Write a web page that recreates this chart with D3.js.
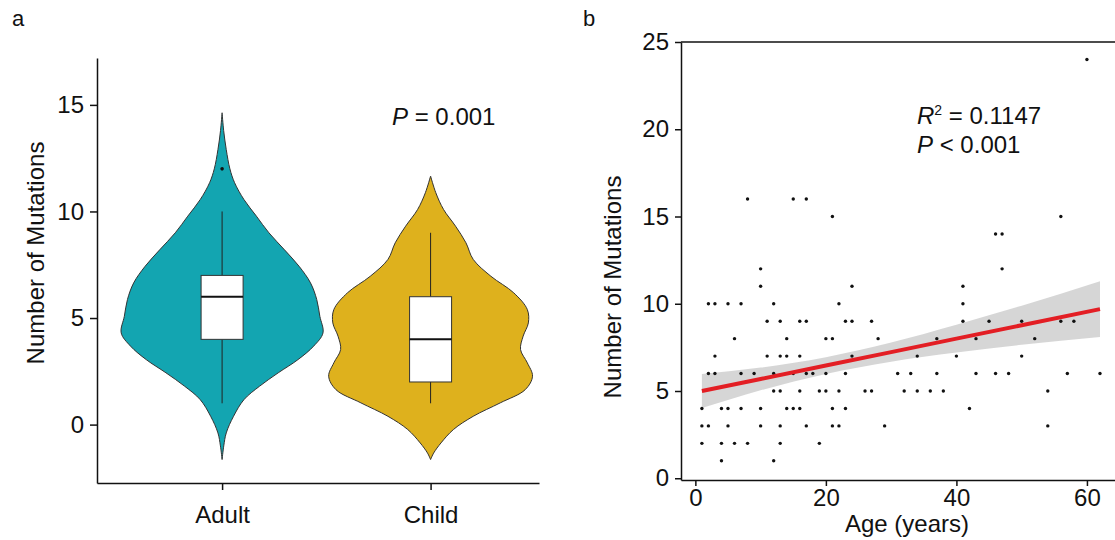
<!DOCTYPE html>
<html>
<head>
<meta charset="utf-8">
<script src="https://d3js.org/d3.v7.min.js"></script>
<style>
  body { margin: 0; background: #fff; }
  svg text { font-family: "Liberation Sans", Arial, sans-serif; fill: #111; }
  .axis path, .axis line { stroke: #111; stroke-width: 1.5px; }
  .axis text { font-size: 24px; }
</style>
</head>
<body>
<div id="chart"></div>
<script>
// ---- panel a data ----
var groups = ["Adult", "Child"];
var groupColors = ["#13a5b1", "#deb11d"];
var boxQ1 = [4, 2];
var boxMedian = [6, 4];
var boxQ3 = [7, 6];
var whiskerLow = [1, 1];
var whiskerHigh = [10, 9];
var outliers = [[0, 12]];        // [group index, value]

// violin outline: [value, relative half width]
var adultDensity = [[14.63,0],[13.8,0.015],[12.9,0.04],[12,0.075],[11.35,0.12],[10.56,0.21],[9.78,0.33],[9.0,0.45],
  [8.2,0.6],[7.43,0.74],[6.65,0.85],[5.87,0.91],[5.08,0.94],[4.3,0.97],[3.68,0.88],[3.05,0.73],[2.43,0.54],
  [1.8,0.36],[1.17,0.21],[0.39,0.11],[-0.39,0.04],[-1.0,0.016],[-1.64,0]];
var childDensity = [[11.66,0],[10.88,0.05],[10.09,0.125],[9.31,0.24],[8.53,0.34],[7.75,0.41],[6.96,0.58],[6.18,0.8],
  [5.4,0.93],[4.77,0.94],[4.15,0.89],[3.52,0.865],[2.9,0.93],[2.27,0.98],[1.64,0.91],[1.02,0.67],[0.39,0.41],
  [-0.23,0.22],[-0.86,0.1],[-1.33,0.03],[-1.64,0]];
var densities = [adultDensity, childDensity];
var yTicksA = [0, 5, 10, 15];

// ---- panel b data ----
var ages = [60,
  8,15,17,
  21,56,
  46,47,
  10,47,
  10,24,41,
  2,3,5,7,12,22,41,
  11,13,16,17,23,24,27,41,45,50,56,58,
  6,14,20,21,28,37,43,52,
  3,11,13,14,16,24,34,40,50,
  2,3,7,9,12,15,17,18,20,23,31,33,37,43,46,48,57,62,
  12,13,16,19,20,22,26,27,32,34,36,38,54,
  1,4,5,7,10,14,15,16,21,23,42,
  1,2,5,10,13,17,21,22,29,54,
  1,4,6,8,13,19,
  4,12];
var mutations = [24,
  16,16,16,
  15,15,
  14,14,
  12,12,
  11,11,11,
  10,10,10,10,10,10,10,
  9,9,9,9,9,9,9,9,9,9,9,9,
  8,8,8,8,8,8,8,8,
  7,7,7,7,7,7,7,7,7,
  6,6,6,6,6,6,6,6,6,6,6,6,6,6,6,6,6,6,
  5,5,5,5,5,5,5,5,5,5,5,5,5,
  4,4,4,4,4,4,4,4,4,4,4,
  3,3,3,3,3,3,3,3,3,3,
  2,2,2,2,2,2,
  1,1];
var fitAge = [1, 10, 20, 30, 40, 50, 62];
var fitMean = [5.0, 5.69, 6.46, 7.23, 8.0, 8.77, 9.69];
var fitLower = [4.02, 5.04, 5.98, 6.68, 7.2, 7.65, 8.09];
var fitUpper = [5.98, 6.34, 6.94, 7.78, 8.8, 9.89, 11.29];
var xTicksB = [0, 20, 40, 60];
var yTicksB = [0, 5, 10, 15, 20, 25];

var width = 1115, height = 540;
var svg = d3.select("#chart").append("svg")
    .attr("width", width)
    .attr("height", height);

// ================= panel a =================
var xA = d3.scaleLinear().domain([0.4, 2.52]).range([97, 539]);
var yA = d3.scaleLinear().domain([-2.74, 17.2]).range([483, 58]);
var wA = d3.scaleLinear().domain([0, 1]).range([0, 104]);

svg.append("text").attr("x", 12).attr("y", 26).style("font-size", "22px").text("a");

var violin = function(cx) {
  return d3.area()
    .y(function(d) { return yA(d[0]); })
    .x0(function(d) { return cx - wA(d[1]); })
    .x1(function(d) { return cx + wA(d[1]); })
    .curve(d3.curveCatmullRom);
};

groups.forEach(function(g, i) {
  var cx = xA(i + 1);
  svg.append("path")
      .datum(densities[i])
      .attr("d", violin(cx))
      .attr("fill", groupColors[i])
      .attr("stroke", "#333")
      .attr("stroke-width", 1);
  // whiskers
  svg.append("line").attr("x1", cx).attr("x2", cx)
      .attr("y1", yA(whiskerLow[i])).attr("y2", yA(boxQ1[i]))
      .attr("stroke", "#222").attr("stroke-width", 1);
  svg.append("line").attr("x1", cx).attr("x2", cx)
      .attr("y1", yA(boxQ3[i])).attr("y2", yA(whiskerHigh[i]))
      .attr("stroke", "#222").attr("stroke-width", 1);
  // box
  svg.append("rect")
      .attr("x", cx - 21).attr("width", 42)
      .attr("y", yA(boxQ3[i])).attr("height", yA(boxQ1[i]) - yA(boxQ3[i]))
      .attr("fill", "#fff").attr("stroke", "#333").attr("stroke-width", 1);
  svg.append("line").attr("x1", cx - 21).attr("x2", cx + 21)
      .attr("y1", yA(boxMedian[i])).attr("y2", yA(boxMedian[i]))
      .attr("stroke", "#111").attr("stroke-width", 2);
});

svg.selectAll(".outlier").data(outliers).enter().append("circle")
    .attr("class", "outlier")
    .attr("cx", function(d) { return xA(d[0] + 1); })
    .attr("cy", function(d) { return yA(d[1]); })
    .attr("r", 1.8).attr("fill", "#111");

svg.append("g").attr("class", "axis")
    .attr("transform", "translate(97,0)")
    .call(d3.axisLeft(yA).tickValues(yTicksA).tickSize(7).tickPadding(6).tickSizeOuter(0));
svg.append("g").attr("class", "axis")
    .attr("transform", "translate(0,483)")
    .call(d3.axisBottom(xA).tickValues([1, 2]).tickFormat(function(d) { return groups[d - 1]; })
      .tickSize(7).tickPadding(16).tickSizeOuter(0));

svg.append("text")
    .attr("transform", "translate(44,253) rotate(-90)")
    .attr("text-anchor", "middle")
    .style("font-size", "24px")
    .text("Number of Mutations");

var pA = svg.append("text").attr("x", 392).attr("y", 125).style("font-size", "24px");
pA.append("tspan").style("font-style", "italic").text("P");
pA.append("tspan").text(" = 0.001");

// ================= panel b =================
var xB = d3.scaleLinear().domain([-2.2, 64.3]).range([681, 1115]);
var yB = d3.scaleLinear().domain([-0.1, 25]).range([480, 42]);

svg.append("text").attr("x", 583).attr("y", 26).style("font-size", "22px").text("b");

svg.append("path")
    .datum(fitAge.map(function(a, i) { return [a, fitLower[i], fitUpper[i]]; }))
    .attr("d", d3.area()
      .x(function(d) { return xB(d[0]); })
      .y0(function(d) { return yB(d[1]); })
      .y1(function(d) { return yB(d[2]); })
      .curve(d3.curveMonotoneX))
    .attr("fill", "#999").attr("fill-opacity", 0.4);

svg.selectAll(".pt").data(ages).enter().append("circle")
    .attr("class", "pt")
    .attr("cx", function(d) { return xB(d); })
    .attr("cy", function(d, i) { return yB(mutations[i]); })
    .attr("r", 1.7).attr("fill", "#111");

svg.append("path")
    .datum(fitAge.map(function(a, i) { return [a, fitMean[i]]; }))
    .attr("d", d3.line()
      .x(function(d) { return xB(d[0]); })
      .y(function(d) { return yB(d[1]); }))
    .attr("fill", "none").attr("stroke", "#e31e24").attr("stroke-width", 4);

// top border of panel
svg.append("line").attr("x1", 681).attr("x2", 1115)
    .attr("y1", yB(25)).attr("y2", yB(25))
    .attr("stroke", "#111").attr("stroke-width", 1.5);

svg.append("g").attr("class", "axis")
    .attr("transform", "translate(681,0)")
    .call(d3.axisLeft(yB).tickValues(yTicksB).tickSize(6).tickPadding(6).tickSizeOuter(0));
svg.append("g").attr("class", "axis")
    .attr("transform", "translate(0,480)")
    .call(d3.axisBottom(xB).tickValues(xTicksB).tickSize(6).tickPadding(3).tickSizeOuter(0));

svg.append("text")
    .attr("x", 907).attr("y", 532)
    .attr("text-anchor", "middle")
    .style("font-size", "24px")
    .text("Age (years)");

svg.append("text")
    .attr("transform", "translate(621,287) rotate(-90)")
    .attr("text-anchor", "middle")
    .style("font-size", "24px")
    .text("Number of Mutations");

var r2 = svg.append("text").attr("x", 917).attr("y", 124).style("font-size", "24px");
r2.append("tspan").style("font-style", "italic").text("R");
r2.append("tspan").attr("dy", -9).style("font-size", "14px").text("2");
r2.append("tspan").attr("dy", 9).text(" = 0.1147");

var pB = svg.append("text").attr("x", 917).attr("y", 153).style("font-size", "24px");
pB.append("tspan").style("font-style", "italic").text("P");
pB.append("tspan").text(" < 0.001");
</script>
</body>
</html>
